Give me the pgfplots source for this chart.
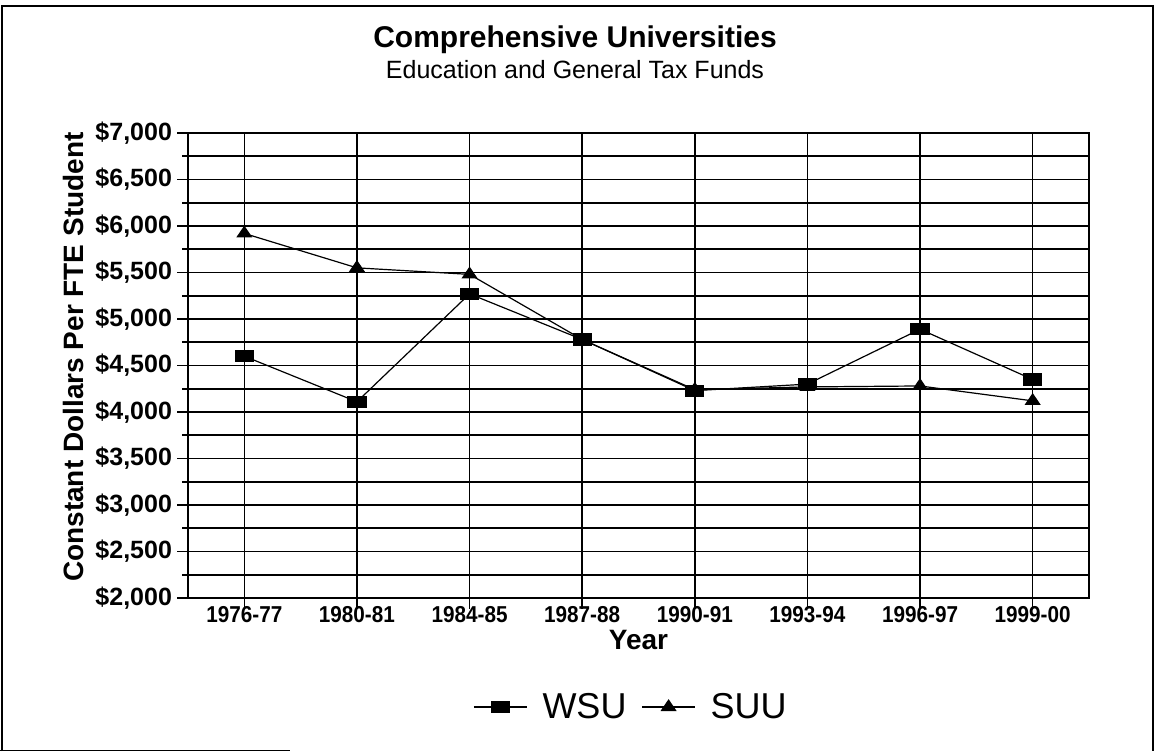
\documentclass[border=0pt]{standalone}
\usepackage{pgfplots}
\pgfplotsset{compat=1.18}
\usepackage{fontspec}
\setmainfont{Liberation Sans}
\newcommand\tl[1]{\scalebox{0.9}[1]{#1}}
\begin{document}
\begin{tikzpicture}
\useasboundingbox (0,0) rectangle (577.5pt,376pt);
% frame
\draw[line width=0.6pt] (1pt,0.5pt) -- (1pt,373pt) -- (576.5pt,373pt) -- (576.5pt,0.5pt);
\draw[line width=0.6pt] (0pt,0.6pt) -- (145pt,0.6pt);
% titles
\node[font=\fontsize{15}{18}\selectfont\bfseries] at (287.5pt,356pt) {Comprehensive Universities};
\node[font=\fontsize{12.5}{15}\selectfont] at (287.5pt,341pt) {Education and General Tax Funds};
\begin{axis}[
  at={(94pt,77pt)}, anchor=south west,
  scale only axis, width=450.5pt, height=232.5pt,
  xmin=-0.5, xmax=7.5, ymin=2000, ymax=7000,
  xtick={0,...,7},
  xticklabels={\tl{1976-77},\tl{1980-81},\tl{1984-85},\tl{1987-88},\tl{1990-91},\tl{1993-94},\tl{1996-97},\tl{1999-00}},
  ytick={2000,2500,...,7000},
  yticklabels={{\$2,000},{\$2,500},{\$3,000},{\$3,500},{\$4,000},{\$4,500},{\$5,000},{\$5,500},{\$6,000},{\$6,500},{\$7,000}},
  minor y tick num=1,
  /pgf/number format/assume math mode=true,
  tick align=outside,
  major tick length=5.5pt, minor tick length=3pt,
  tick style={black, line width=0.8pt},
  xmajorgrids, ymajorgrids, yminorgrids,
  grid style={black, line width=0.8pt},
  minor grid style={black, line width=0.8pt},
  axis line style={black, line width=0.8pt},
  xtick pos=bottom, ytick pos=left,
  xticklabel style={font=\fontsize{11.5}{13}\selectfont\bfseries, yshift=5pt},
  yticklabel style={font=\fontsize{12.5}{14}\selectfont\bfseries, xshift=1pt},
  xlabel={Year},
  xlabel style={font=\fontsize{14}{16}\selectfont\bfseries, at={(axis description cs:0.5,-0.0903)}, anchor=center},
  ylabel={Constant Dollars Per FTE Student},
  ylabel style={font=\fontsize{14}{16}\selectfont\bfseries, at={(axis description cs:-0.1276,0.518)}, anchor=center},
  legend style={at={(0.4928,-0.2344)}, anchor=center, draw=none, fill=none,
    font=\fontsize{18}{20}\selectfont, legend columns=2,
    /tikz/every odd column/.append style={column sep=5.5pt},
    /tikz/every even column/.append style={column sep=5.5pt}},
  legend image code/.code={%
    \draw[#1, mark repeat=2, mark phase=2] plot coordinates {(0pt,0pt) (13.25pt,0pt) (26.5pt,0pt)};},
]
\addplot[black, line width=0.6pt, mark=square*, mark size=4.5pt,
  mark options={solid, yscale=0.61}] coordinates {
  (0,4600) (1,4110) (2,5270) (3,4780) (4,4230) (5,4300) (6,4890) (7,4350)};
\addlegendentry{WSU}
\addplot[black, line width=0.6pt, mark=triangle*, mark size=4pt,
  mark options={solid, yscale=0.85}] coordinates {
  (0,5920) (1,5550) (2,5480) (3,4780) (4,4240) (5,4270) (6,4280) (7,4120)};
\addlegendentry{SUU}
\end{axis}
\end{tikzpicture}
\end{document}
